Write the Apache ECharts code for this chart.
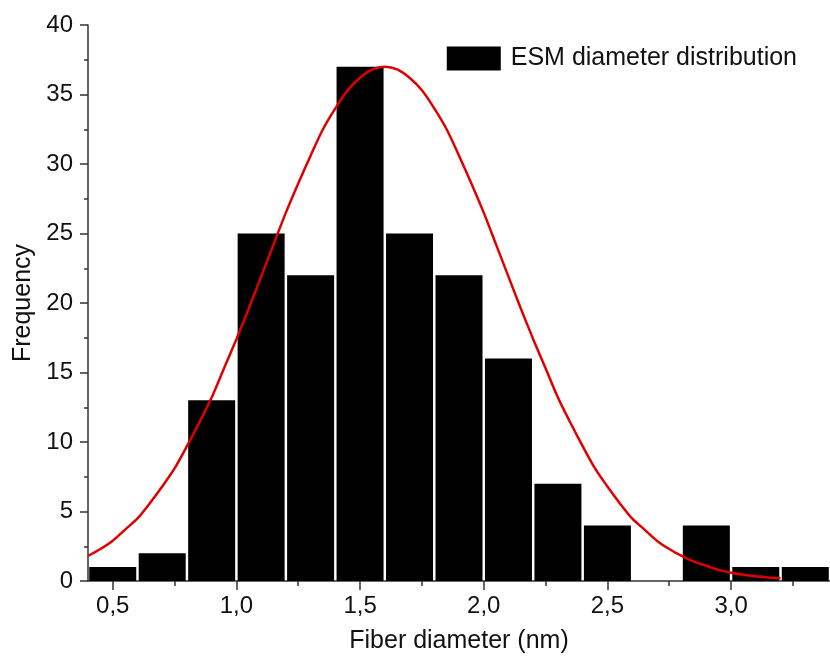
<!DOCTYPE html>
<html>
<head>
<meta charset="utf-8">
<script src="https://cdn.jsdelivr.net/npm/echarts@6/dist/echarts.min.js"></script>
<style>
  html, body { margin: 0; padding: 0; background: #fff; }
  #chart { width: 830px; height: 660px; }
</style>
</head>
<body>
<div id="chart"></div>
<script>
// histogram bins (centre of each 0.2 wide bin) and counts
const binCenters = [0.5, 0.7, 0.9, 1.1, 1.3, 1.5, 1.7, 1.9, 2.1, 2.3, 2.5, 2.7, 2.9, 3.1, 3.3];
const counts = [1, 2, 13, 25, 22, 37, 25, 22, 16, 7, 4, 0, 4, 1, 1];

// red fitted curve
const curveX = [0.4, 0.45, 0.5, 0.55, 0.6, 0.65, 0.7, 0.75, 0.8, 0.85, 0.9, 0.95, 1.0, 1.05, 1.1, 1.15,
                1.2, 1.25, 1.3, 1.35, 1.4, 1.45, 1.5, 1.55, 1.6, 1.65, 1.7, 1.75, 1.8, 1.85, 1.9, 1.95,
                2.0, 2.05, 2.1, 2.15, 2.2, 2.25, 2.3, 2.35, 2.4, 2.45, 2.5, 2.55, 2.6, 2.65, 2.7, 2.75,
                2.8, 2.85, 2.9, 2.95, 3.0, 3.05, 3.1, 3.15, 3.2];
const curveY = [1.8, 2.3, 2.9, 3.7, 4.5, 5.6, 6.8, 8.1, 9.7, 11.4, 13.2, 15.3, 17.4, 19.6, 21.9, 24.2,
                26.5, 28.6, 30.6, 32.5, 34.0, 35.3, 36.2, 36.8, 37.0, 36.8, 36.2, 35.3, 34.0, 32.5, 30.6, 28.6,
                26.5, 24.2, 21.9, 19.6, 17.4, 15.3, 13.2, 11.4, 9.7, 8.1, 6.8, 5.6, 4.5, 3.7, 2.9, 2.3,
                1.8, 1.4, 1.1, 0.8, 0.6, 0.45, 0.35, 0.25, 0.2];

// axis ticks
const xTicks = [0.5, 1.0, 1.5, 2.0, 2.5, 3.0];
const xMinorTicks = [0.75, 1.25, 1.75, 2.25, 2.75, 3.25];

let chart = echarts.init(document.getElementById('chart'));

const fontFam = '"Liberation Sans", Arial, sans-serif';
const axisCol = '#333';

chart.setOption({
    backgroundColor: '#fff',
    animation: false,
    grid: { left: 88, right: -5, top: 25, bottom: 79, containLabel: false },
    legend: {
        data: ['ESM diameter distribution'],
        right: 28,
        top: 41,
        itemWidth: 54,
        itemHeight: 24,
        itemGap: 10,
        textStyle: { fontSize: 25, color: '#111', fontFamily: fontFam, padding: [0, 0, 0, 5] },
        icon: 'rect'
    },
    xAxis: [
        {
            type: 'value',
            min: 0.4,
            max: 3.4,
            name: 'Fiber diameter (nm)',
            nameLocation: 'middle',
            nameGap: 48,
            nameTextStyle: { fontSize: 25, color: '#111', fontFamily: fontFam },
            splitLine: { show: false },
            axisLine: { show: true, lineStyle: { color: axisCol, width: 1.5 } },
            axisTick: { show: true, inside: false, length: 9, customValues: xTicks, lineStyle: { color: axisCol, width: 1.5 } },
            axisLabel: {
                customValues: xTicks,
                fontSize: 24, color: '#111', fontFamily: fontFam, margin: 13,
                formatter: v => v.toFixed(1).replace('.', ',')
            }
        },
        {
            type: 'value',
            min: 0.4,
            max: 3.4,
            position: 'bottom',
            offset: 0,
            splitLine: { show: false },
            axisLine: { show: false },
            axisTick: { show: true, length: 5, customValues: xMinorTicks, lineStyle: { color: axisCol, width: 1.5 } },
            axisLabel: { show: false }
        }
    ],
    yAxis: {
        type: 'value',
        min: 0,
        max: 40,
        interval: 5,
        name: 'Frequency',
        nameLocation: 'middle',
        nameGap: 50,
        nameRotate: 90,
        nameTextStyle: { fontSize: 25, color: '#111', fontFamily: fontFam },
        splitLine: { show: false },
        axisLine: { show: true, lineStyle: { color: axisCol, width: 1.5 } },
        axisTick: { show: true, length: 8, lineStyle: { color: axisCol, width: 1.5 } },
        minorTick: { show: true, splitNumber: 2, length: 4, lineStyle: { color: axisCol, width: 1.5 } },
        axisLabel: { fontSize: 24, color: '#111', fontFamily: fontFam, margin: 15 }
    },
    series: [
        {
            name: 'ESM diameter distribution',
            type: 'bar',
            xAxisIndex: 0,
            barWidth: 47,
            itemStyle: { color: '#000' },
            data: binCenters.map((x, i) => [x, counts[i]])
        },
        {
            name: 'fit',
            type: 'line',
            xAxisIndex: 0,
            smooth: 0.3,
            showSymbol: false,
            lineStyle: { color: '#e00000', width: 2.5 },
            data: curveX.map((x, i) => [x, curveY[i]]),
            z: 5
        }
    ]
});
</script>
</body>
</html>
